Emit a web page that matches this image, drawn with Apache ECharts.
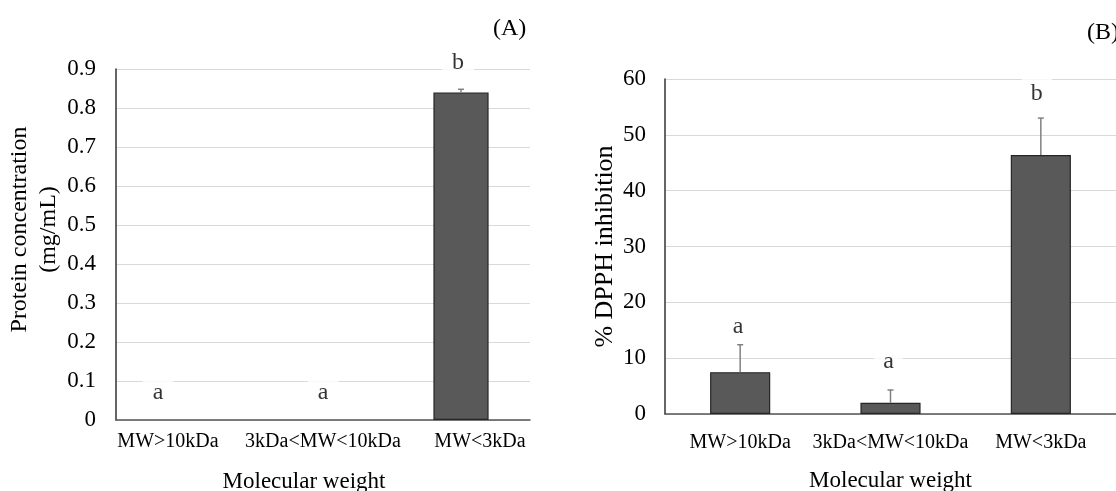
<!DOCTYPE html>
<html>
<head>
<meta charset="utf-8">
<script src="https://cdn.jsdelivr.net/npm/echarts@6/dist/echarts.min.js"></script>
<style>
html,body{margin:0;padding:0;background:#fff;}
#c{width:1116px;height:491px;}
</style>
</head>
<body>
<div id="c"></div>
<script>
// ---- data ----
const categories = ['MW>10kDa', '3kDa<MW<10kDa', 'MW<3kDa'];
const proteinValues = [0, 0, 0.84];
const proteinSD = [0, 0, 0.008];
const proteinLetters = ['a', 'a', 'b'];
const proteinLetterY = [0.069, 0.069, 0.915];
const dpphValues = [7.5, 2.0, 46.4];
const dpphSD = [4.9, 2.3, 6.6];
const dpphLetters = ['a', 'a', 'b'];
const dpphLetterY = [15.6, 9.3, 57.3];
const proteinAxis = { min: 0, max: 0.9, interval: 0.1 };
const dpphAxis = { min: 0, max: 60, interval: 10 };

const FONT = '"Liberation Serif", "Times New Roman", serif';
const TXT = '#000';

function barData(vals) {
  return vals.map(v => (v === 0
    ? { value: v, itemStyle: { borderWidth: 0, opacity: 0 } }
    : { value: v }));
}

function errorSeries(xi, yi, vals, sds) {
  return {
    type: 'custom', xAxisIndex: xi, yAxisIndex: yi, z: 5, clip: false,
    data: vals.map((v, i) => [i, v, sds[i]]),
    renderItem: function (params, api) {
      const sd = api.value(2);
      if (!sd) return null;
      const i = api.value(0), v = api.value(1);
      const p0 = api.coord([i, v]);
      const p1 = api.coord([i, v + sd]);
      const cap = 3;
      const st = { stroke: '#808080', lineWidth: 1.5 };
      return { type: 'group', children: [
        { type: 'line', shape: { x1: p0[0], y1: p0[1], x2: p1[0], y2: p1[1] }, style: st },
        { type: 'line', shape: { x1: p1[0] - cap, y1: p1[1], x2: p1[0] + cap, y2: p1[1] }, style: st }
      ]};
    }
  };
}

function letterSeries(xi, yi, letters, ys, offsets, pad) {
  return {
    type: 'scatter', xAxisIndex: xi, yAxisIndex: yi, symbolSize: 0, z: 10, silent: true, clip: false,
    data: letters.map((l, i) => ({
      value: [i, ys[i]], name: l,
      label: { offset: offsets[i] }
    })),
    label: {
      show: true, position: 'inside',
      formatter: p => p.name,
      fontFamily: FONT, fontSize: 24, color: TXT,
      backgroundColor: '#fff', padding: pad
    }
  };
}

const axisLabelCommon = { fontFamily: FONT, color: TXT };

const option = {
  backgroundColor: '#fff',
  animation: false,
  title: [
    { text: '(A)', left: 488, top: 12, textStyle: { fontFamily: FONT, fontSize: 24, fontWeight: 'normal', color: TXT } },
    { text: '(B)', left: 1082, top: 16, textStyle: { fontFamily: FONT, fontSize: 24, fontWeight: 'normal', color: TXT } }
  ],
  grid: [
    { left: 116, top: 69, right: 586, bottom: 71, containLabel: false, outerBoundsMode: 'none' },
    { left: 665, top: 79, right: 0, bottom: 77, containLabel: false, outerBoundsMode: 'none' }
  ],
  xAxis: [
    {
      type: 'category', gridIndex: 0, data: categories,
      axisTick: { show: false },
      axisLine: { lineStyle: { color: '#555', width: 1.5 } },
      axisLabel: Object.assign({}, axisLabelCommon, {
        fontSize: 20, margin: 12, interval: 0,
        formatter: (v, i) => '{c' + i + '|' + v + '}',
        rich: {
          c0: { fontFamily: FONT, fontSize: 20, color: TXT, padding: [0, 34, 0, 0] },
          c1: { fontFamily: FONT, fontSize: 20, color: TXT },
          c2: { fontFamily: FONT, fontSize: 20, color: TXT, padding: [0, 0, 0, 38] }
        }
      }),
      name: 'Molecular weight', nameLocation: 'middle', nameGap: 50,
      nameTextStyle: { fontFamily: FONT, fontSize: 23, color: TXT, padding: [0, 38, 0, 0] }
    },
    {
      type: 'category', gridIndex: 1, data: categories,
      axisTick: { show: false },
      axisLine: { lineStyle: { color: '#555', width: 1.5 } },
      axisLabel: Object.assign({}, axisLabelCommon, { fontSize: 20, margin: 19, interval: 0 }),
      name: 'Molecular weight', nameLocation: 'middle', nameGap: 55,
      nameTextStyle: { fontFamily: FONT, fontSize: 23, color: TXT }
    }
  ],
  yAxis: [
    {
      type: 'value', gridIndex: 0,
      min: proteinAxis.min, max: proteinAxis.max, interval: proteinAxis.interval,
      axisLine: { show: true, lineStyle: { color: '#333', width: 1.5 } },
      axisTick: { show: false },
      splitLine: { lineStyle: { color: '#d9d9d9', width: 1 } },
      axisLabel: Object.assign({}, axisLabelCommon, { fontSize: 23, margin: 20 }),
      name: 'Protein concentration\n(mg/mL)', nameLocation: 'middle', nameGap: 42,
      nameTextStyle: { fontFamily: FONT, fontSize: 24, lineHeight: 29, color: TXT, padding: [0, 0, 0, 30] }
    },
    {
      type: 'value', gridIndex: 1,
      min: dpphAxis.min, max: dpphAxis.max, interval: dpphAxis.interval,
      axisLine: { show: true, lineStyle: { color: '#333', width: 1.5 } },
      axisTick: { show: false },
      splitLine: { lineStyle: { color: '#d9d9d9', width: 1 } },
      axisLabel: Object.assign({}, axisLabelCommon, { fontSize: 23, margin: 19 }),
      name: '% DPPH inhibition', nameLocation: 'middle', nameGap: 47,
      nameTextStyle: { fontFamily: FONT, fontSize: 26, color: TXT }
    }
  ],
  series: [
    {
      type: 'bar', xAxisIndex: 0, yAxisIndex: 0, data: barData(proteinValues), barWidth: '40%',
      itemStyle: { color: '#595959', borderColor: '#262626', borderWidth: 1.2 }
    },
    errorSeries(0, 0, proteinValues, proteinSD),
    letterSeries(0, 0, proteinLetters, proteinLetterY, [[-27, 0], [0, 0], [-3, 0]], [3, 10]),
    {
      type: 'bar', xAxisIndex: 1, yAxisIndex: 1, data: barData(dpphValues), barWidth: '40%',
      itemStyle: { color: '#595959', borderColor: '#262626', borderWidth: 1.2 }
    },
    errorSeries(1, 1, dpphValues, dpphSD),
    letterSeries(1, 1, dpphLetters, dpphLetterY, [[-2, 0], [-2, 0], [-4, 0]], [4, 9])
  ]
};

const chart = echarts.init(document.getElementById('c'), null, { renderer: 'canvas' });
chart.setOption(option);
</script>
</body>
</html>
